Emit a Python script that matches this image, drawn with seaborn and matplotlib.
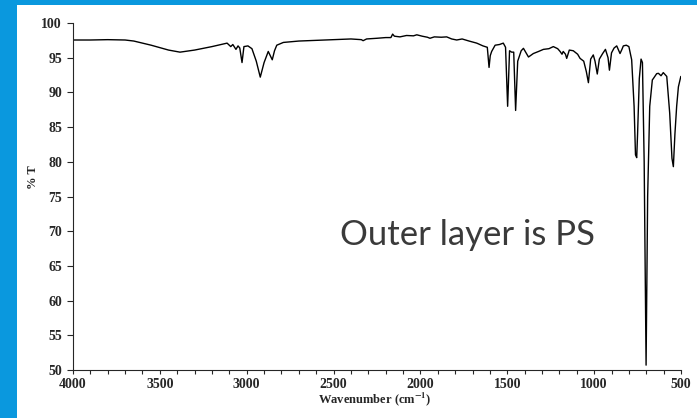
import numpy as np
import pandas as pd
import seaborn as sns
import matplotlib.pyplot as plt
from matplotlib.patches import Rectangle
from matplotlib.ticker import MultipleLocator

# IR spectrum (wavenumber in cm-1, %T)
wavenumber = [
    4000, 3900, 3800, 3700, 3650, 3550, 3450, 3384, 3300, 3200,
    3113, 3092, 3080, 3062, 3050, 3040, 3027, 3016, 2993, 2970,
    2945, 2922, 2900, 2876, 2853, 2840, 2827, 2789, 2700, 2600,
    2500, 2400, 2340, 2330, 2310, 2250, 2200, 2170, 2160, 2150,
    2118, 2080, 2040, 2021, 1990, 1960, 1945, 1920, 1880, 1849,
    1820, 1791, 1760, 1720, 1676, 1640, 1615, 1605, 1598, 1590,
    1570, 1545, 1523, 1510, 1498, 1487, 1475, 1463, 1452, 1440,
    1420, 1407, 1390, 1378, 1350, 1320, 1292, 1260, 1235, 1210,
    1196, 1185, 1178, 1165, 1158, 1143, 1120, 1095, 1081, 1060,
    1045, 1033, 1020, 1005, 995, 982, 970, 951, 935, 920,
    912, 900, 885, 870, 851, 840, 832, 815, 800, 784,
    770, 762, 755, 750, 740, 730, 722, 712, 701, 692,
    680, 665, 659, 640, 630, 615, 602, 582, 565, 552,
    544, 535, 525, 515, 501,
]
transmittance = [
    97.55, 97.55, 97.6, 97.55, 97.4, 96.8, 96.1, 95.8, 96.1, 96.6,
    97.1, 96.6, 96.9, 96.2, 96.7, 96.4, 94.3, 96.6, 96.7, 96.3,
    94.5, 92.2, 94.3, 95.9, 94.7, 96.0, 96.8, 97.2, 97.4, 97.5,
    97.6, 97.7, 97.6, 97.45, 97.7, 97.8, 97.9, 97.9, 98.4, 98.1,
    98.0, 98.2, 98.15, 98.3, 98.1, 97.95, 97.8, 98.0, 97.95, 98.0,
    97.7, 97.55, 97.7, 97.4, 97.1, 96.7, 96.5, 93.6, 95.3, 95.9,
    96.8, 96.9, 97.1, 96.5, 88.0, 96.0, 95.8, 95.8, 87.4, 94.5,
    96.0, 96.35, 95.6, 95.1, 95.6, 95.9, 96.2, 96.3, 96.6, 96.3,
    95.9, 95.5, 95.9, 95.5, 94.9, 96.1, 96.0, 95.5, 94.9, 94.5,
    93.0, 91.4, 94.8, 95.4, 94.5, 92.65, 94.8, 95.6, 96.2, 95.0,
    93.2, 95.7, 96.4, 96.7, 95.6, 96.2, 96.7, 96.8, 96.6, 94.7,
    88.0, 81.0, 80.6, 84.0, 92.0, 94.8, 94.3, 80.0, 50.7, 75.0,
    88.0, 91.8, 92.0, 92.7, 92.75, 92.4, 92.85, 92.3, 87.0, 80.5,
    79.3, 84.0, 88.0, 90.8, 92.3,
]

x_ticks = [4000, 3500, 3000, 2500, 2000, 1500, 1000, 500]
y_ticks = [50, 55, 60, 65, 70, 75, 80, 85, 90, 95, 100]
note = "Outer layer is PS"

df = pd.DataFrame({"wn": wavenumber, "T": transmittance})

sns.set_style("ticks")
plt.rcParams["font.family"] = ["Liberation Serif", "DejaVu Serif"]
plt.rcParams["mathtext.fontset"] = "stix"
plt.rcParams["mathtext.default"] = "bf"

blue = "#0a98de"
fig = plt.figure(figsize=(6.97, 4.18), dpi=100, facecolor=blue)
fig.patches.append(Rectangle((17 / 697, 0), 1, 1 - 5 / 418, transform=fig.transFigure,
                             facecolor="white", edgecolor="none", zorder=-10))

ax = fig.add_axes([73 / 697, 1 - 370 / 418, 608 / 697, 347 / 418])
ax.set_zorder(5)
ax.set_facecolor("white")
sns.lineplot(data=df, x="wn", y="T", ax=ax, color="black", lw=1.0,
             estimator=None, sort=False)

ax.set_xlim(4000, 500)
ax.set_ylim(50, 100)
ax.set_xticks(x_ticks)
ax.set_yticks(y_ticks)
ax.xaxis.set_minor_locator(MultipleLocator(100))
ax.tick_params(axis="x", which="both", direction="out", length=3, width=0.8,
               labelsize=10, pad=3)
ax.tick_params(axis="y", direction="out", length=4, width=0.8, labelsize=10, pad=4)
for lab in ax.get_xticklabels() + ax.get_yticklabels():
    lab.set_fontweight("bold")

ax.spines["right"].set_visible(False)
ax.spines["top"].set_visible(False)
for s in ["left", "bottom"]:
    ax.spines[s].set_linewidth(0.8)

ax.set_xlabel("Wavenumber (cm$^{-1}$)", fontsize=9, fontweight="bold")
ax.set_ylabel("% T", fontsize=9, fontweight="bold")
ax.xaxis.set_label_coords(0.497, -0.058)
ax.yaxis.set_label_coords(-0.056, 0.556)

ax.text(2463, 68.0, note, ha="left", va="baseline", fontsize=25,
        color="#3a3a3a", family=["Lato", "DejaVu Sans"])

fig.savefig("out.png", dpi=100, facecolor=blue)
